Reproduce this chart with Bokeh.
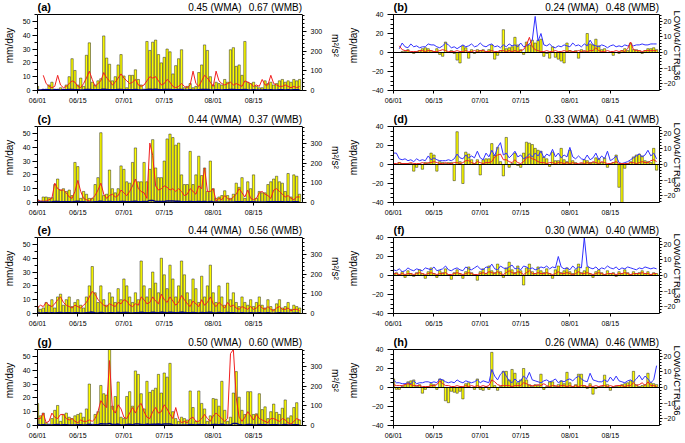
import numpy as np
from bokeh.plotting import figure
from bokeh.models import Range1d, LinearAxis, FixedTicker, Label, Span
from bokeh.layouts import gridplot
from bokeh.embed import file_html
from bokeh.resources import INLINE

nan = float("nan")
FONT = "Liberation Sans"

days = list(range(92))
date_ticks = [0, 14, 30, 44, 61, 75]
date_labels = ["06/01", "06/15", "07/01", "07/15", "08/01", "08/15"]

tags = ["(a)", "(b)", "(c)", "(d)", "(e)", "(f)", "(g)", "(h)"]
wma = ["0.45", "0.24", "0.44", "0.33", "0.44", "0.30", "0.50", "0.26"]
wmb = ["0.67", "0.48", "0.37", "0.41", "0.56", "0.40", "0.60", "0.46"]

# ---------------- panel (a) ----------------
bars_a = [3,0,1,1,4,6,1,1,2,1,
          4,10,23,14.5,4,9,3,25.5,34.5,6,
          4,7,8.5,39.5,23.5,19,7,10,18.5,26,
          10.5,2,11,11,15,8,4,1,35.5,29,
          35,36.5,26,20,24,30,28,12,18,23,
          29.5,2,3,5,2,3,13,18.5,33,29,
          10,4,6,5,4,8,6,29.5,31,17.5,
          18.5,11,35.5,6,5,6,3,2,2,7,
          5,6,4,5,7,8,6,7,6,8,
          7,8]
red_a = [nan,nan,11,5,3,2,3,11,4,2,
         3,5,7,6,3,2,5,9,14,8,
         3,5,7,13,9,7,4,6,9,12,
         9,7,5,6,8,4,3,4,7,10,
         9,10,7,4,5,8,6,3,2,3,
         5,3,2,4,14,5,3,7,11,9,
         6,3,14,7,5,4,5,6,4,5,
         4,3,7,6,5,3,4,3,8,4,
         4,11,5,4,3,3,4,3,2,3,
         2,3]
blue_a = [0.4,0.3,0.5,0.6,0.5,0.4,0.6,0.5,0.4,0.5,
          0.6,0.7,0.8,0.6,0.5,0.4,0.5,0.7,0.8,0.6,
          0.5,0.6,0.7,0.9,0.8,0.6,0.5,0.6,0.7,0.8,
          0.6,0.5,0.6,0.6,0.7,0.5,0.4,0.4,0.8,0.9,
          0.8,0.9,0.7,0.6,0.7,0.8,0.7,0.5,0.6,0.7,
          0.8,0.4,0.4,0.5,0.4,0.4,0.6,0.7,0.8,0.7,
          0.5,0.4,0.5,0.5,0.4,0.5,0.5,0.8,0.8,0.6,
          0.6,0.5,0.8,0.5,0.4,0.5,0.4,0.3,0.3,0.5,
          0.4,0.5,0.4,0.4,0.5,0.5,0.4,0.5,0.4,0.5,
          0.5,0.5]

# ---------------- panel (b) ----------------
bars_b = [0,0,0,1,1,3,0,-1,1,2,
          4,5,4,2,1,4,-2,-4,11,0,
          2,-1,-8,-11,7,5,-6,3,-1,3,
          2,3,1,3,8,-7,-3,2,24,4,
          5,6,16,8,3,-2,11,8,13,10,
          13,14,-4,-1,-6,6,-5,-7,-9,-11,
          10,2,1,2,-6,3,1,20,9,8,
          14,7,3,4,0,0,-3,0,-1,2,
          4,2,10,3,3,2,-1,2,4,4,
          5,3]
blue_b = [nan,nan,4,10,6,5,9,6,7,5,
          6,6,9,8,8,6,5,7,10,8,
          5,6,4,6,8,6,7,9,6,7,
          10,7,6,8,9,6,7,5,8,6,
          9,7,8,6,10,6,7,9,13,38,
          12,20,8,7,9,6,5,7,6,8,
          7,6,10,7,8,6,9,7,13,8,
          7,6,8,7,5,7,8,6,7,6,
          8,7,9,7,8,8,9,8,8,9,
          9,9]
red_b = [nan,nan,7,3,2,2,1,1,1,2,
         2,1,2,2,1,1,2,3,2,1,
         1,1,2,1,1,2,1,1,2,1,
         2,2,1,1,2,1,1,2,2,1,
         2,1,2,1,2,3,8,16,6,3,
         2,1,1,2,1,1,2,1,1,2,
         1,2,1,1,2,1,2,1,2,2,
         5,2,1,1,2,1,1,2,1,2,
         1,4,11,3,2,2,1,2,2,2,
         2,2]

# ---------------- panel (c) ----------------
bars_c = [2,1,4,4,3.5,3.5,13,17,9,10,
          8,9,5,29,26,3,8,6,3,3,
          13,18,50.5,5,6,23.5,10,7,10,26.5,
          24,15,14,29,39.5,15,15,29,15,24,
          45.5,25,18,18,30,46,49.5,47,41.5,43,
          20,13,13,37,13,20,33.5,19.5,25,8,
          30,10,3,4,5,8.5,5,3,6,14,
          11,18,3,15,10,20,3,8,7,7,
          13,15,17,19,15,14,8,21,4,20,
          19,6]
red_c = [2,1,1,1,2,3,14,10,9,9,
         7,4,3,8,16,8,3,2,1,3,
         5,9,14,6,3,5,6,4,5,9,
         7,5,8,12,17,10,8,7,3,43,
         34,12,9,10,12,11,9,10,8,10,
         8,5,6,10,8,6,12,10,25,8,
         8,10,1,3,2,5,3,2,4,6,
         10,7,4,9,3,2,3,7,8,6,
         5,3,9,10,8,6,4,5,3,2,
         4,4]
blue_c = [0.3,0.3,0.4,0.4,0.4,0.5,0.7,0.8,0.6,0.6,
          0.5,0.5,0.4,0.7,0.9,0.5,0.5,0.4,0.3,0.4,
          0.6,0.7,1.0,0.5,0.5,0.7,0.6,0.5,0.6,0.8,
          0.7,0.6,0.6,0.8,0.9,0.6,0.6,0.8,0.6,1.5,
          1.4,0.8,0.7,0.7,0.8,1.0,1.0,1.0,0.9,0.9,
          0.6,0.5,0.5,0.8,0.5,0.6,0.8,0.6,0.7,0.4,
          0.8,0.5,0.3,0.3,0.4,0.4,0.4,0.3,0.4,0.6,
          0.5,0.6,0.3,0.5,0.5,0.6,0.3,0.4,0.4,0.4,
          0.5,0.6,0.6,0.6,0.6,0.5,0.4,0.6,0.3,0.6,
          0.6,0.4]

# ---------------- panel (d) ----------------
bars_d = [0,0,2,1,1,1,1,-7,-3,1,
          -5,2,1,12,10,-7,3,2,1,2,
          2,-17,34.5,3,-20,13,11,5,1,5,
          -11,5,6,6,22,10,18,3,-12,28.5,
          -3,1,12,-1,-3,12,23.5,22.5,21,17,
          15,14,8,6,-2,13,4,4,17,5,
          3,15,4,2,0,1,5,4,2,2,
          7,6,2,7,-3,1,2,10,-24,-42,
          -4,1,3,8,10,11,9,4,3,2,
          17,-6]
blue_d = [12,12,6,5,6,4,5,3,6,4,
          5,4,9,5,7,5,4,4,4,5,
          4,6,11,7,6,10,7,9,7,14,
          7,5,12,8,15,9,18,23,10,12,
          7,10,14,8,10,6,8,11,8,12,
          9,14,7,11,9,16,8,12,7,10,
          8,18,8,6,9,6,5,10,5,7,
          12,5,9,6,14,4,6,9,2,1,
          2,3,5,7,9,11,8,10,15,9,
          12,6]
red_d = [1,1,2,1,1,1,2,1,1,1,
         2,1,2,2,3,2,1,1,2,1,
         1,2,2,1,2,4,4,2,1,3,
         2,1,2,2,3,8,10,11,5,5,
         3,2,5,2,1,3,7,8,6,5,
         3,2,2,1,2,2,1,2,2,1,
         2,1,2,1,1,2,1,2,1,3,
         2,1,3,2,1,1,2,3,1,1,
         1,1,2,2,1,2,3,2,2,4,
         5,3]

# ---------------- panel (e) ----------------
bars_e = [5,3,4,8,6,10,4,12,14,6,
          10,12,5,8,10,6,4,12,20,34,
          15,8,20,10,6,15,12,8,18,10,
          25,20,12,8,15,10,38,20,12,18,
          30,22,15,40,28,18,35,25,12,20,
          38,28,15,10,25,18,8,27,12,20,
          35,15,8,20,12,6,22,10,15,8,
          5,12,8,6,10,5,8,12,6,4,
          10,5,3,7,10,4,5,8,3,6,
          5,4]
red_e = [4,6,5,8,6,5,7,10,12,8,
         6,5,4,6,5,4,6,8,12,16,
         14,10,8,6,5,7,6,5,8,7,
         10,9,6,5,7,6,12,10,7,8,
         12,9,7,14,10,8,12,9,6,8,
         13,10,7,5,9,7,5,10,6,8,
         12,7,5,8,6,4,8,5,6,4,
         3,5,4,3,5,3,4,6,4,3,
         5,3,2,4,5,3,3,4,2,3,
         3,2]
blue_e = [0.4,0.3,0.4,0.5,0.4,0.6,0.3,0.6,0.7,0.4,
          0.5,0.6,0.4,0.5,0.5,0.4,0.3,0.6,0.8,1.0,
          0.6,0.4,0.7,0.5,0.4,0.6,0.5,0.4,0.7,0.5,
          0.8,0.7,0.5,0.4,0.6,0.5,1.0,0.7,0.5,0.6,
          0.9,0.7,0.6,1.0,0.8,0.6,0.9,0.8,0.5,0.7,
          1.0,0.8,0.6,0.5,0.8,0.6,0.4,0.8,0.5,0.7,
          0.9,0.6,0.4,0.7,0.5,0.3,0.7,0.5,0.6,0.4,
          0.3,0.5,0.4,0.3,0.5,0.3,0.4,0.5,0.3,0.3,
          0.5,0.3,0.2,0.4,0.5,0.3,0.3,0.4,0.2,0.3,
          0.3,0.3]

# ---------------- panel (f) ----------------
bars_f = [2,3,1,4,-2,5,2,-1,3,6,
          2,-3,4,8,2,-2,5,3,7,1,
          -4,3,6,2,-3,4,9,3,1,-5,
          4,7,2,10,5,3,12,4,-2,8,
          14,6,3,10,5,-10,8,12,4,2,
          9,5,3,7,2,-3,6,10,3,5,
          8,4,2,6,12,3,5,9,2,-2,
          4,6,3,1,5,2,3,-1,4,2,
          6,3,1,4,2,3,5,2,4,1,
          3,2]
blue_f = [6,5,7,4,5,8,6,5,7,6,
          5,8,7,6,9,5,6,7,10,6,
          5,7,8,6,5,9,7,6,8,10,
          7,6,9,8,12,7,6,10,8,7,
          9,11,7,8,6,10,9,7,8,6,
          7,9,8,10,7,9,8,20,9,7,
          8,6,10,7,9,8,40,10,8,7,
          9,6,8,7,10,8,7,9,6,8,
          7,9,8,7,6,8,7,9,8,7,
          8,7]
red_f = [2,2,1,2,1,2,2,1,2,3,
         2,1,2,3,2,1,2,2,3,1,
         1,2,3,2,1,2,3,2,1,1,
         2,3,2,4,3,2,4,2,1,3,
         5,3,2,4,3,1,3,5,2,2,
         3,2,2,3,2,1,2,4,2,2,
         3,2,1,2,4,2,2,3,2,1,
         2,3,2,1,2,2,2,1,2,2,
         3,2,1,2,2,2,3,2,2,1,
         2,2]

# ---------------- panel (g) ----------------
bars_g = [16,7,9,2,1,5,11,14.5,3,8,
          9,6,5,7,8,9,6,12,30,1,
          8,10,29,23,22,55,14,21,31.5,6,
          5,21,24.5,14,39.5,37,23,12,32,24,
          25.5,27,37,23.5,38,35,45,10,5,3,
          6,5,4,25,13,3,25,16,12,3,
          7,19.5,19,14,32,11,3,6,23.5,39,
          20.5,11,8,24.5,24.5,8,8.5,23,11.5,13.5,
          5,10,15.5,9.5,8,12.5,18.5,5.5,7,13,
          16.5,4]
red_g = [5,5,9,2,3,9,6,5,8,8,
         5,4,5,3,2,4,3,3,4,3,
         5,10,18,15,13,47,12,9,15,12,
         6,5,9,13,9,14,16,10,6,5,
         10,13,9,10,15,12,8,5,13,5,
         2,3,2,5,6,3,3,5,8,5,
         3,7,9,7,5,3,5,52,55,20,
         6,3,6,10,7,4,8,5,4,3,
         2,5,5,4,3,5,4,2,1,3,
         5,4]
blue_g = [0.6,0.4,0.5,0.3,0.3,0.4,0.6,0.7,0.3,0.5,
          0.5,0.4,0.4,0.4,0.5,0.5,0.4,0.6,1.0,0.3,
          0.5,0.6,1.2,1.0,1.0,1.5,0.7,0.8,1.0,0.4,
          0.4,0.8,0.9,0.6,1.1,1.0,0.8,0.6,1.0,0.8,
          0.9,0.9,1.0,0.8,1.0,1.0,1.1,0.5,0.3,0.3,
          0.4,0.3,0.3,0.8,0.6,0.3,0.8,0.6,0.5,0.3,
          0.4,0.7,0.7,0.6,0.9,0.5,0.3,0.4,1.5,1.4,
          0.8,0.5,0.4,0.8,0.8,0.4,0.4,0.7,0.5,0.5,
          0.3,0.5,0.6,0.5,0.4,0.5,0.7,0.3,0.4,0.5,
          0.6,0.3]

# ---------------- panel (h) ----------------
bars_h = [9,-2,-2,1,3,6,7,8,1,3,
          -6,-2,1,4,3,-2,9,8,-14,-16,
          -4,-5,-6,-4,-12,4,5,0,-2,9,
          -2,-3,1,-2,37,2,-3,1,17,17,
          8,19,15,5,8,20,8,3,1,3,
          2,14,-2,1,6,6,1,3,7,4,
          16,5,1,3,14,14,2,-1,4,-7,
          -1,1,1,13,3,-3,1,1,2,3,
          4,5,7,17,3,1,2,3,15,5,
          4,3]
blue_h = [8,5,5,4,4,5,4,7,4,5,
          5,6,6,5,6,5,9,8,6,5,
          6,5,8,6,5,7,6,5,6,8,
          5,7,6,5,19,12,8,14,17,12,
          7,5,9,6,7,12,9,16,8,7,
          6,5,7,8,6,7,9,5,7,6,
          8,9,7,10,12,9,7,6,15,8,
          7,6,6,8,6,11,7,12,7,6,
          5,7,8,6,9,13,8,12,9,5,
          8,23]
red_h = [3,2,2,2,3,4,3,2,2,2,
         1,1,1,2,2,3,7,4,2,2,
         1,1,2,1,1,2,1,2,1,2,
         1,2,1,2,8,6,3,2,2,2,
         2,1,2,2,2,5,4,2,2,2,
         3,2,4,2,1,2,2,1,2,2,
         1,2,1,2,1,2,2,1,2,1,
         2,1,2,2,1,2,1,2,2,2,
         1,2,2,5,2,3,5,2,6,2,
         2,1]

# ---------------- layout constants (pixels) ----------------
FH = 76          # visible plot-box height
TA = 14          # title strip kept inside the frame, above the box
FW_L, FW_R = 265, 266
LEFT_FIG = (36, 37)   # border left / right of the left-column figures
RIGHT_FIG = (44, 36)  # border left / right of the right-column figures
BOTTOMS = [22, 21, 22, 17]


def style_axis(ax, size="7px"):
    ax.major_label_text_font = FONT
    ax.major_label_text_font_size = size
    ax.major_label_text_color = "black"
    ax.axis_label_text_font = FONT
    ax.axis_label_text_font_size = "10px"
    ax.axis_label_text_font_style = "normal"
    ax.axis_label_text_color = "black"
    ax.axis_line_color = "black"
    ax.major_tick_line_color = "black"
    ax.minor_tick_line_color = "black"
    ax.major_tick_in = 0
    ax.major_tick_out = 5
    ax.minor_tick_in = 0
    ax.minor_tick_out = 3
    ax.major_label_standoff = 2


def ext(lo, hi):
    """range whose top leaves TA pixels of title strip above `hi`"""
    return hi + TA * (hi - lo) / FH


def add_titles(p, i, lo, hi, fw):
    xpx = 92.0 / fw
    ypx = (hi - lo) / FH
    p.add_layout(Span(location=hi, dimension="width", line_color="black", line_width=1))
    p.add_layout(Label(x=0, y=hi + 1.5 * ypx, text=tags[i],
                       text_font=FONT, text_font_size="11px", text_font_style="bold",
                       text_align="left", text_baseline="bottom", text_color="black"))
    p.add_layout(Label(x=92 - 61 * xpx, y=hi + 2 * ypx,
                       text=wma[i] + " (WMA)", text_font=FONT, text_font_size="10px",
                       text_align="right", text_baseline="bottom", text_color="black"))
    p.add_layout(Label(x=92 - 0.5 * xpx, y=hi + 2 * ypx,
                       text=wmb[i] + " (WMB)", text_font=FONT, text_font_size="10px",
                       text_align="right", text_baseline="bottom", text_color="black"))


def base_fig(borders, fw, bottom, lo, hi):
    left, right = borders
    p = figure(frame_width=fw, frame_height=FH + TA,
               x_range=Range1d(0, 92), y_range=Range1d(lo, ext(lo, hi)),
               output_backend="svg", toolbar_location=None,
               min_border_left=left, min_border_right=right,
               min_border_top=0, min_border_bottom=bottom)
    p.xgrid.visible = False
    p.ygrid.visible = False
    p.outline_line_color = None
    p.background_fill_color = "white"
    p.border_fill_color = "white"
    p.xaxis.ticker = FixedTicker(ticks=date_ticks, minor_ticks=[])
    p.xaxis.major_label_overrides = {t: l for t, l in zip(date_ticks, date_labels)}
    style_axis(p.xaxis[0])
    p.xaxis.major_tick_out = 3
    p.xaxis.major_label_standoff = 3
    return p


def left_panel(i, bottom, bars, red, blue):
    lo, hi = 0, 55
    p = base_fig(LEFT_FIG, FW_L, bottom, lo, hi)
    p.yaxis.ticker = FixedTicker(ticks=[0, 10, 20, 30, 40, 50], minor_ticks=list(range(0, 56, 5)))
    p.yaxis.bounds = (lo, hi)
    p.yaxis.axis_label = "mm/day"
    style_axis(p.yaxis[0])
    p.yaxis.axis_label_standoff = 5
    rlo, rhi = 0, 385
    p.extra_y_ranges = {"r": Range1d(rlo, ext(rlo, rhi))}
    ax = LinearAxis(y_range_name="r", axis_label="m²/s²", bounds=(rlo, rhi),
                    ticker=FixedTicker(ticks=[0, 100, 200, 300], minor_ticks=list(range(0, 381, 20))))
    style_axis(ax)
    ax.major_tick_out = 4
    ax.minor_tick_out = 2
    ax.major_label_standoff = 4
    ax.axis_label_standoff = 5
    p.add_layout(ax, "right")
    p.vbar(x=days, top=bars, bottom=0, width=0.8, fill_color="#FFFF00",
           line_color="#222222", line_width=0.5)
    p.line(days, np.array(red, dtype=float), color="#F02020", line_width=1)
    p.line(days, np.array(blue, dtype=float), color="#000080", line_width=1.5)
    add_titles(p, i, lo, hi, FW_L)
    return p


def right_panel(i, bottom, bars, red, blue):
    lo, hi = -40, 40
    p = base_fig(RIGHT_FIG, FW_R, bottom, lo, hi)
    p.yaxis.ticker = FixedTicker(ticks=[-40, -20, 0, 20, 40], minor_ticks=list(range(-40, 41, 5)))
    p.yaxis.bounds = (lo, hi)
    p.yaxis.axis_label = "mm/day"
    style_axis(p.yaxis[0])
    p.yaxis.major_tick_out = 6
    p.yaxis.minor_tick_out = 3
    p.yaxis.major_label_standoff = 4
    p.yaxis.axis_label_standoff = 10
    rlo, rhi = -24.5, 24.5
    p.extra_y_ranges = {"r": Range1d(rlo, ext(rlo, rhi))}
    ax = LinearAxis(y_range_name="r", axis_label="LOW04/CTRL36", bounds=(rlo, rhi),
                    ticker=FixedTicker(ticks=[-20, -10, 0, 10, 20], minor_ticks=list(range(-24, 25, 2))))
    style_axis(ax)
    ax.axis_label_text_font_size = "9.5px"
    ax.major_tick_out = 3
    ax.minor_tick_out = 2
    ax.major_label_standoff = 1
    ax.axis_label_standoff = -6
    p.add_layout(ax, "right")
    p.add_layout(Span(location=0, dimension="width", line_color="black", line_width=1))
    p.vbar(x=days, top=bars, bottom=0, width=0.8, fill_color="#FFFF00",
           line_color="#222222", line_width=0.5)
    p.line(days, np.array(blue, dtype=float), color="#3030FF", line_width=1)
    p.line(days, np.array(red, dtype=float), color="#F02020", line_width=1)
    add_titles(p, i, lo, hi, FW_R)
    return p


pa = left_panel(0, BOTTOMS[0], bars_a, red_a, blue_a)
pb = right_panel(1, BOTTOMS[0], bars_b, red_b, blue_b)
pc = left_panel(2, BOTTOMS[1], bars_c, red_c, blue_c)
pd = right_panel(3, BOTTOMS[1], bars_d, red_d, blue_d)
pe = left_panel(4, BOTTOMS[2], bars_e, red_e, blue_e)
pf = right_panel(5, BOTTOMS[2], bars_f, red_f, blue_f)
pg = left_panel(6, BOTTOMS[3], bars_g, red_g, blue_g)
ph = right_panel(7, BOTTOMS[3], bars_h, red_h, blue_h)

grid = gridplot([[pa, pb], [pc, pd], [pe, pf], [pg, ph]], toolbar_location=None)

open("out.html", "w").write(file_html(grid, INLINE))
